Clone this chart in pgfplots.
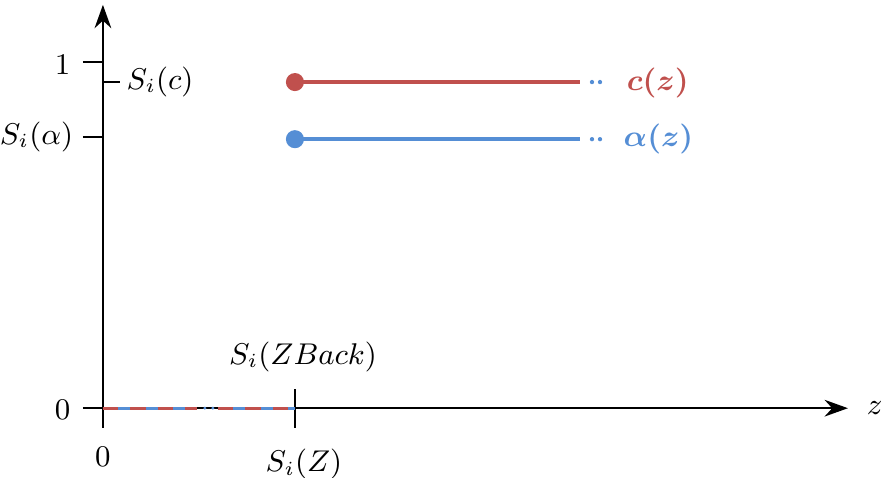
\documentclass[border=0pt]{standalone}
\usepackage{pgfplots}
\pgfplotsset{compat=1.18}
\usepackage{bm}
\usetikzlibrary{arrows.meta}
\definecolor{cred}{RGB}{192,80,77}
\definecolor{cblue}{RGB}{85,142,213}
\begin{document}
\begin{tikzpicture}[font=\fontsize{9}{11}\selectfont]
\begin{axis}[
  width=223.5pt, height=121pt, scale only axis,
  xmin=0, xmax=3.88, ymin=0, ymax=1.165,
  axis lines=left,
  axis line style={line width=0.7pt, -{Stealth[length=7pt,width=5pt]}},
  ticks=none,
  clip=false,
]
% y-axis ticks
\draw[line width=0.6pt] (axis cs:-0.104,1) -- (axis cs:0,1);
\draw[line width=0.6pt] (axis cs:-0.104,0.783) -- (axis cs:0,0.783);
\draw[line width=0.6pt] (axis cs:-0.104,0) -- (axis cs:0,0);
\draw[line width=0.6pt] (axis cs:0,0.942) -- (axis cs:0.089,0.942);
% x-axis ticks
\draw[line width=0.6pt] (axis cs:0,0.055) -- (axis cs:0,-0.058);
\draw[line width=0.6pt] (axis cs:1,0.055) -- (axis cs:1,-0.058);
% main lines
\addplot[cred, line width=1.2pt, mark=*, mark size=2.1pt, mark repeat=2, mark phase=1]
  coordinates {(1,0.942) (2.484,0.942)};
\addplot[cblue, line width=1.2pt, mark=*, mark size=2.1pt, mark repeat=2, mark phase=1]
  coordinates {(1,0.777) (2.484,0.777)};
\addplot[cblue, line width=1.3pt, dash pattern=on 0pt off 2.4pt, line cap=round]
  coordinates {(2.547,0.942) (2.60,0.942)};
\addplot[cblue, line width=1.3pt, dash pattern=on 0pt off 2.4pt, line cap=round]
  coordinates {(2.547,0.777) (2.60,0.777)};
% bottom dashed segments
\addplot[cblue, line width=0.9pt] coordinates {(0,0) (0.49,0)};
\addplot[cred, line width=0.9pt, dash pattern=on 4.6pt off 3.6pt] coordinates {(0,0) (0.49,0)};
\addplot[cblue, line width=1.0pt, dash pattern=on 0pt off 2.4pt, line cap=round]
  coordinates {(0.531,0) (0.58,0)};
\addplot[cblue, line width=0.9pt] coordinates {(0.60,0) (1,0)};
\addplot[cred, line width=0.9pt, dash pattern=on 4.6pt off 3.6pt] coordinates {(0.60,0) (1,0)};
% labels
\node[anchor=east] at (axis cs:-0.109,0.994) {1};
\node[anchor=east] at (axis cs:-0.094,0.783) {$S_i(\alpha)$};
\node[anchor=west] at (axis cs:0.0625,0.942) {$S_i(c)$};
\node[anchor=east] at (axis cs:-0.109,-0.004) {0};
\node[anchor=north] at (axis cs:0,-0.078) {0};
\node[anchor=north] at (axis cs:1.047,-0.085) {$S_i(Z)$};
\node at (axis cs:1.042,0.148) {$S_i(ZBack)$};
\node[anchor=west] at (axis cs:3.917,0) {$z$};
\node[anchor=west, text=cred] at (axis cs:2.667,0.94) {$\bm{c(z)}$};
\node[anchor=west, text=cblue] at (axis cs:2.651,0.777) {$\bm{\alpha(z)}$};
\coordinate (BL) at (axis cs:-0.536,-0.199);
\coordinate (TR) at (axis cs:4.073,1.179);
\end{axis}
\pgfresetboundingbox
\path[use as bounding box] (BL) rectangle (TR);
\end{tikzpicture}
\end{document}
